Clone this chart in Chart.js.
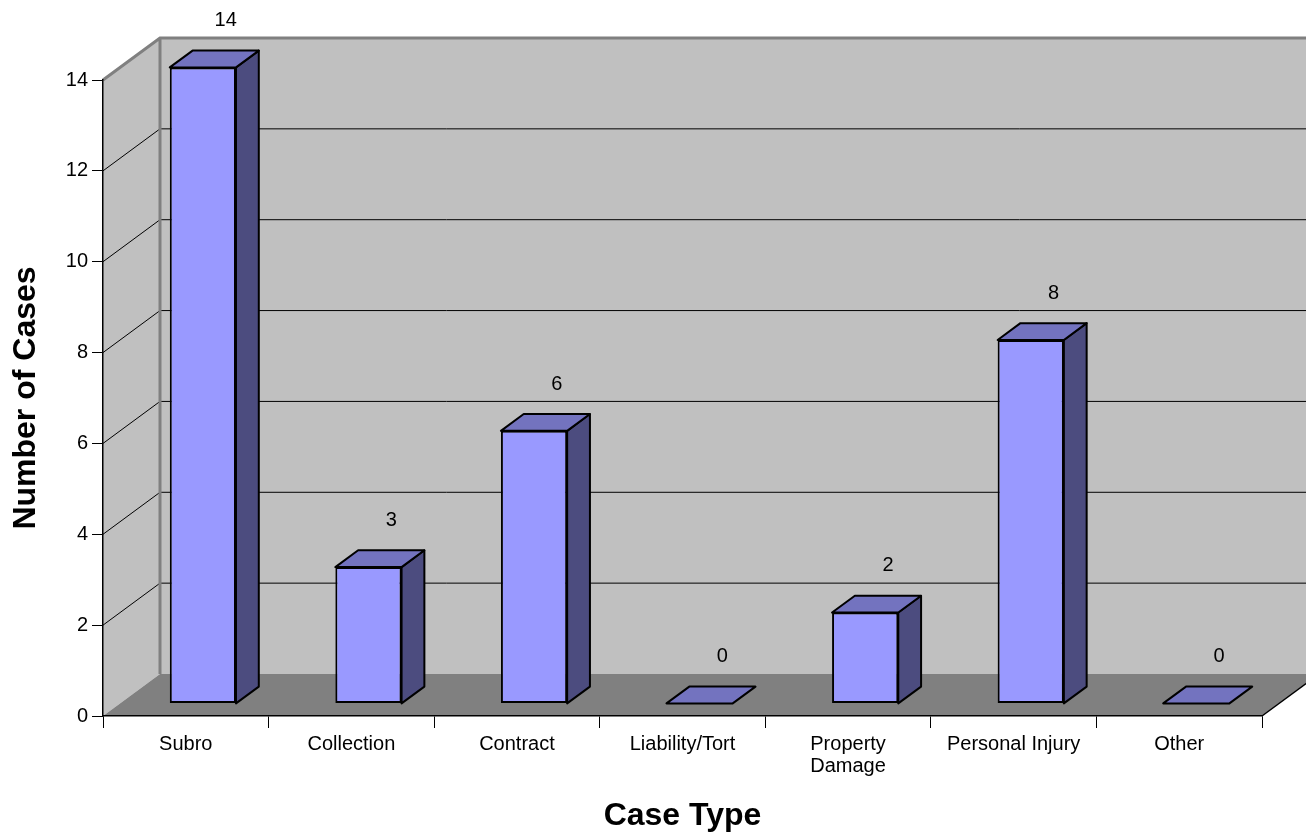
<!DOCTYPE html>
<html>
<head>
<meta charset="utf-8">
<script src="https://cdn.jsdelivr.net/npm/chart.js@4.4.1/dist/chart.umd.min.js"></script>
<style>
  body { margin: 0; background: #fff; }
</style>
</head>
<body>
<canvas id="graficoCasos" width="1306" height="838"></canvas>
<script>
const categories = ["Subro", "Collection", "Contract", "Liability/Tort", ["Property", "Damage"], "Personal Injury", "Other"];
const cases = [14, 3, 6, 0, 2, 8, 0];
const yTicks = [0, 2, 4, 6, 8, 10, 12, 14];

// depth of the 3d box (full floor depth) and where the bars sit inside it
const DX = 57, DY = -42;
const FRONT = 0.3, BACK = 0.7;

Chart.defaults.font.family = "'Liberation Sans', Arial, sans-serif";
Chart.defaults.color = "#000";

const caixa3d = {
  id: "caixa3d",
  beforeDraw(chart) {
    const { ctx, chartArea: a, scales: { x, y } } = chart;
    const y0 = y.getPixelForValue(0), yTop = y.getPixelForValue(y.max);
    const W = chart.width;
    ctx.save();
    // walls
    ctx.fillStyle = "#c0c0c0";
    ctx.fillRect(a.left + DX, yTop + DY, W, y0 - yTop);
    ctx.beginPath();
    ctx.moveTo(a.left, yTop);
    ctx.lineTo(a.left + DX, yTop + DY);
    ctx.lineTo(a.left + DX, y0 + DY);
    ctx.lineTo(a.left, y0);
    ctx.closePath();
    ctx.fill();
    // floor
    ctx.fillStyle = "#808080";
    ctx.beginPath();
    ctx.moveTo(a.left, y0);
    ctx.lineTo(a.right, y0);
    ctx.lineTo(a.right + DX, y0 + DY);
    ctx.lineTo(a.left + DX, y0 + DY);
    ctx.closePath();
    ctx.fill();
    ctx.strokeStyle = "#000";
    ctx.lineWidth = 1.5;
    ctx.beginPath();
    ctx.moveTo(a.right, y0);
    ctx.lineTo(a.right + DX, y0 + DY);
    ctx.stroke();
    // grid lines on the walls
    ctx.lineWidth = 1;
    y.ticks.forEach(t => {
      if (t.value <= 0 || t.value >= y.max) return;
      const py = y.getPixelForValue(t.value);
      ctx.beginPath();
      ctx.moveTo(a.left, py);
      ctx.lineTo(a.left + DX, py + DY);
      ctx.lineTo(W, py + DY);
      ctx.stroke();
    });
    // wall edges
    ctx.strokeStyle = "#808080";
    ctx.lineWidth = 3;
    ctx.beginPath();
    ctx.moveTo(a.left, yTop);
    ctx.lineTo(a.left + DX, yTop + DY);
    ctx.lineTo(W, yTop + DY);
    ctx.moveTo(a.left + DX, yTop + DY);
    ctx.lineTo(a.left + DX, y0 + DY);
    ctx.stroke();
    ctx.restore();
  },
  beforeDatasetsDraw(chart) {
    // front faces of the bars sit a bit inside the floor
    chart.ctx.save();
    chart.ctx.translate(FRONT * DX, FRONT * DY);
  },
  afterDatasetsDraw(chart) {
    const { ctx, scales: { x, y } } = chart;
    ctx.restore();
    const w = x.width / categories.length * 0.4;
    const dx = (BACK - FRONT) * DX, dy = (BACK - FRONT) * DY;
    ctx.save();
    ctx.strokeStyle = "#000";
    ctx.lineWidth = 2;
    ctx.lineJoin = "round";
    cases.forEach((v, i) => {
      const cx = x.getPixelForValue(i) + FRONT * DX;
      const x0 = cx - w / 2, x1 = cx + w / 2;
      const yb = y.getPixelForValue(0) + FRONT * DY;
      const yt = y.getPixelForValue(v) + FRONT * DY;
      // side
      if (v > 0) {
        ctx.fillStyle = "#4c4c7f";
        ctx.beginPath();
        ctx.moveTo(x1, yt);
        ctx.lineTo(x1 + dx, yt + dy);
        ctx.lineTo(x1 + dx, yb + dy);
        ctx.lineTo(x1, yb);
        ctx.closePath();
        ctx.fill();
        ctx.stroke();
      }
      // top
      ctx.fillStyle = "#7373bf";
      ctx.beginPath();
      ctx.moveTo(x0, yt);
      ctx.lineTo(x1, yt);
      ctx.lineTo(x1 + dx, yt + dy);
      ctx.lineTo(x0 + dx, yt + dy);
      ctx.closePath();
      ctx.fill();
      ctx.stroke();
    });
    // value labels
    ctx.fillStyle = "#000";
    ctx.font = "20px 'Liberation Sans', Arial, sans-serif";
    ctx.textAlign = "center";
    ctx.textBaseline = "middle";
    cases.forEach((v, i) => {
      ctx.fillText(String(v), x.getPixelForValue(i) + BACK * DX, y.getPixelForValue(v) + BACK * DY - 30);
    });
    ctx.restore();
  }
};

new Chart(document.getElementById("graficoCasos"), {
  type: "bar",
  data: {
    labels: categories,
    datasets: [
      {
        data: cases,
        backgroundColor: "#9999ff",
        borderColor: "#000",
        borderWidth: 2,
        borderSkipped: false,
        barPercentage: 0.4,
        categoryPercentage: 1,
      },
    ],
  },
  options: {
    responsive: false,
    animation: false,
    layout: { padding: { left: 0, right: 44, top: 80, bottom: 0 } },
    plugins: {
      legend: { display: false },
      tooltip: { enabled: false },
    },
    scales: {
      x: {
        afterFit: s => { s.height = 122; },
        grid: { drawOnChartArea: false, offset: true, color: "#000", tickLength: 12 },
        border: { color: "#000", width: 1.5 },
        ticks: { font: { size: 20, lineHeight: 1.1 }, padding: 5, maxRotation: 0, autoSkip: false },
        title: { display: true, text: "Case Type", font: { size: 32, weight: "bold" }, padding: { top: 0, bottom: 3 } },
      },
      y: {
        min: 0,
        max: 14,
        afterFit: s => { s.width = 103; },
        afterBuildTicks: s => { s.ticks = yTicks.map(v => ({ value: v })); },
        grid: { drawOnChartArea: false, color: "#000", tickLength: 11 },
        border: { color: "#000", width: 1.5 },
        ticks: { font: { size: 20 }, padding: 4 },
        title: { display: true, text: "Number of Cases", font: { size: 32, weight: "bold" }, padding: { top: 7, bottom: 0 } },
      },
    },
  },
  plugins: [caixa3d],
});
</script>
</body>
</html>
